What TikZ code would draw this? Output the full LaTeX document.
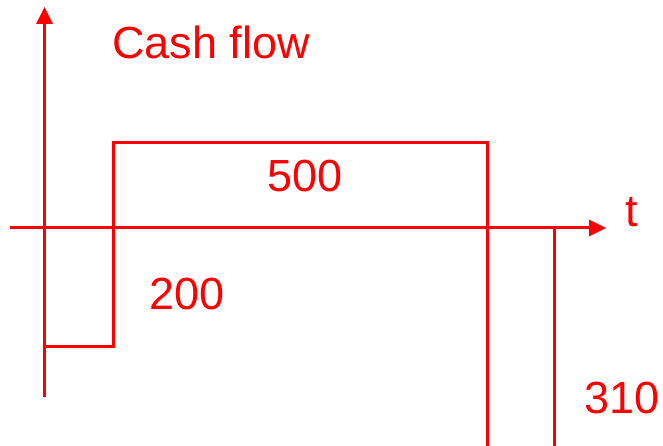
\documentclass[tikz,border=0pt]{standalone}
\usepackage{fontspec}
\setmainfont{Liberation Sans}
\usetikzlibrary{arrows.meta}
\definecolor{flowred}{RGB}{255,0,0}
\tikzset{
	axis/.style={line width=3pt, flowred, -{Triangle[length=17pt,width=16pt]}},
	flow/.style={line width=3pt, flowred},
	lbl/.style={text=flowred, font=\fontsize{45}{50}\selectfont, inner sep=0pt}
}
\begin{document}
\begin{tikzpicture}[x=1pt,y=-1pt]
	\useasboundingbox (0,0) rectangle (663,446);
	\coordinate (ybot) at (44.5,397);
	\coordinate (ytop) at (44.5,7);
	\coordinate (xleft) at (10,228);
	\coordinate (xright) at (606,228);

	\draw[axis] (ybot) -- (ytop);%vertical axis
	\draw[axis] (xleft) -- (xright);%time axis

	\draw[flow] (44.5,346.5) -- (113,346.5) -- (113,143) -- (487,143) -- (487,446);%outflow and inflow
	\draw[flow] (554,228) -- (554,446);%last outflow

	\node[lbl] (cash) at (211,42) {Cash flow};
	\node[lbl] (t) at (632,212) {t};
	\node[lbl] (in) at (305,176) {500};
	\node[lbl] (out) at (187,294) {200};
	\node[lbl] (last) at (622,398) {310};
\end{tikzpicture}
\end{document}
